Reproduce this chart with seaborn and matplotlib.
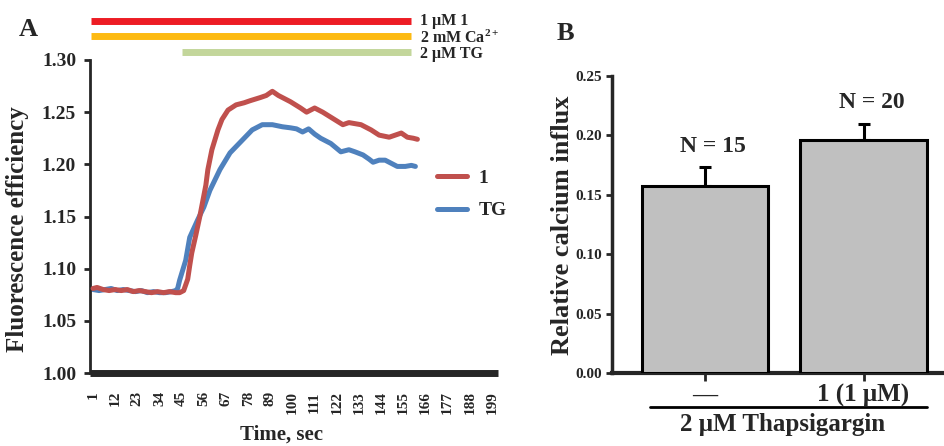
import matplotlib
matplotlib.use("Agg")
import matplotlib.pyplot as plt
import matplotlib.transforms as mtransforms
from matplotlib.lines import Line2D
import seaborn as sns
import pandas as pd

# ---------------- data ----------------
red_t = [1, 3, 6, 9, 12, 15, 18, 21, 24, 27, 30, 33, 36, 39, 42, 44, 46,
         48, 49, 50, 52, 54, 56, 57, 58, 60, 63, 65, 68, 72, 76, 79, 84, 87, 90,
         93, 96, 99, 104, 107, 111, 115, 120, 125, 128, 131, 134, 139, 143, 148,
         151, 154, 157, 160, 162]
red_v = [1.081, 1.082, 1.080, 1.079, 1.080, 1.079, 1.080, 1.078, 1.079, 1.078,
         1.077, 1.078, 1.077, 1.078, 1.077, 1.077, 1.079,
         1.090, 1.103, 1.115, 1.132, 1.150, 1.170, 1.180, 1.195, 1.214, 1.233,
         1.243, 1.252, 1.257, 1.259, 1.261, 1.264, 1.266, 1.270,
         1.266, 1.263, 1.260, 1.254, 1.250, 1.254, 1.250, 1.244, 1.238, 1.240,
         1.239, 1.238, 1.233, 1.228, 1.226, 1.228, 1.230, 1.226, 1.225, 1.224]

blue_t = [1, 4, 7, 10, 13, 16, 19, 22, 25, 28, 31, 34, 37, 40, 42, 43,
          44, 47, 49, 53, 56, 59, 64, 69, 74, 80, 85, 90, 95, 99, 102, 105,
          108, 111, 114, 119, 124, 128, 131, 135, 138, 140, 143, 146, 149,
          152, 156, 159, 161]
blue_v = [1.080, 1.079, 1.080, 1.081, 1.079, 1.080, 1.079, 1.078, 1.079, 1.077,
          1.078, 1.077, 1.077, 1.078, 1.079, 1.081,
          1.089, 1.108, 1.130, 1.147, 1.159, 1.175, 1.195, 1.211, 1.221, 1.233,
          1.238, 1.238, 1.236, 1.235, 1.234, 1.231, 1.234, 1.229, 1.225, 1.220,
          1.212, 1.214, 1.212, 1.209, 1.205, 1.202, 1.204, 1.204, 1.201, 1.198,
          1.198, 1.199, 1.198]

series_names = ["1", "TG"]
series_colors = ["#C0504D", "#4F81BD"]

time_ticks = list(range(1, 200, 11))
yticks_a = [1.00, 1.05, 1.10, 1.15, 1.20, 1.25, 1.30]

treat_labels = ["1 \u03bcM 1", "2 mM Ca$^{2+}$", "2 \u03bcM TG"]
treat_start = [0, 0, 45]
treat_end = [159, 159, 159]
treat_colors = ["#ED1C24", "#FDBA12", "#C3D69B"]

bar_cats = ["\u2014", "1 (1 \u03bcM)"]
bar_vals = [0.157, 0.196]
bar_err = [0.016, 0.014]
bar_n = ["N = 15", "N = 20"]
yticks_b = [0.00, 0.05, 0.10, 0.15, 0.20, 0.25]

# ---------------- style ----------------
sns.set_style("ticks")
plt.rcParams["font.family"] = ["Liberation Serif", "DejaVu Serif"]
plt.rcParams["font.weight"] = "bold"
plt.rcParams["mathtext.fontset"] = "custom"
plt.rcParams["mathtext.rm"] = "Liberation Serif:bold"
plt.rcParams["mathtext.it"] = "Liberation Serif:bold"
plt.rcParams["mathtext.bf"] = "Liberation Serif:bold"

W, H = 945, 446
fig = plt.figure(figsize=(W / 100, H / 100), dpi=100)

def fx(px):
    return px / W

def fy(py):
    return 1 - py / H

# ---------------- panel A ----------------
axA = fig.add_axes([fx(90), fy(373), fx(498) - fx(90), fy(60) - fy(373)])
dfr = pd.DataFrame({"t": red_t, "v": red_v})
dfb = pd.DataFrame({"t": blue_t, "v": blue_v})
sns.lineplot(data=dfb, x="t", y="v", color=series_colors[1], linewidth=3.6,
             ax=axA, label=series_names[1], zorder=2)
sns.lineplot(data=dfr, x="t", y="v", color=series_colors[0], linewidth=3.6,
             ax=axA, label=series_names[0], zorder=3)
axA.set_xlim(-0.5, 202)
axA.set_ylim(1.0, 1.30)
axA.set_xticks(time_ticks)
axA.set_xticklabels([str(t) for t in time_ticks], rotation=90, fontsize=11,
                    fontweight="bold")
axA.set_yticks(yticks_a)
axA.set_yticklabels([f"{v:.2f}" for v in yticks_a], fontsize=14, fontweight="bold")
axA.tick_params(axis="x", length=0, pad=13)
axA.tick_params(axis="y", length=4, width=2, direction="out", pad=6)
for s in ["top", "right"]:
    axA.spines[s].set_visible(False)
axA.spines["left"].set_linewidth(2)
axA.spines["bottom"].set_linewidth(5)
axA.spines["bottom"].set_capstyle("butt")
axA.set_xlabel("Time, sec", fontsize=15, fontweight="bold")
axA.set_ylabel("Fluorescence efficiency", fontsize=18, fontweight="bold")
axA.xaxis.set_label_coords((282 - 90) / 408, -(425 - 373) / 313)
axA.yaxis.set_label_coords(-(90 - 29) / 408, (373 - 229) / 313)

# legend
h, l = axA.get_legend_handles_labels()
order = [l.index("1"), l.index("TG")]
leg = axA.legend([h[i] for i in order], [l[i] for i in order], frameon=False,
                 loc="upper left", bbox_to_anchor=((420 - 90) / 408, (373 - 152) / 313),
                 handlelength=1.5, handletextpad=0.6, labelspacing=0.75,
                 prop={"family": "Liberation Serif", "weight": "bold", "size": 14})

# treatment bars above panel A
trans = mtransforms.blended_transform_factory(axA.transData, fig.transFigure)
bar_y = [21, 36, 52]
text_y = [21, 38, 54]
for lab, s, e, c, yy, ty in zip(treat_labels, treat_start, treat_end, treat_colors,
                                bar_y, text_y):
    axA.plot([s, e], [fy(yy), fy(yy)], color=c, linewidth=5, transform=trans,
             clip_on=False, solid_capstyle="butt")
    fig.text(fx(420), fy(ty), lab, fontsize=11.5, fontweight="bold", va="center",
             ha="left")

fig.text(fx(28), fy(30), "A", fontsize=19, fontweight="bold", ha="center", va="center")

# ---------------- panel B ----------------
axB = fig.add_axes([fx(612), fy(373), fx(945) - fx(612), fy(76) - fy(373)])
dfB = pd.DataFrame({"cat": bar_cats, "val": bar_vals})
sns.barplot(data=dfB, x="cat", y="val", color="#C0C0C0", edgecolor="black",
            linewidth=2.2, width=0.8, saturation=1, ax=axB, zorder=3)
axB.errorbar([0, 1], bar_vals, yerr=[[0, 0], bar_err], fmt="none", ecolor="black",
             elinewidth=2.2, capsize=4, capthick=2.2, zorder=2)
for i, (v, e, n) in enumerate(zip(bar_vals, bar_err, bar_n)):
    axB.text(i + 0.05, v + e + 0.009, n, ha="center", va="bottom", fontsize=17,
             fontweight="bold")
axB.set_xlim(-0.587, 1.514)
axB.set_ylim(0, 0.25)
axB.set_yticks(yticks_b)
axB.set_yticklabels([f"{v:.2f}" for v in yticks_b], fontsize=11, fontweight="bold")
axB.set_xticklabels(bar_cats, fontsize=18, fontweight="bold")
axB.tick_params(axis="x", length=6, width=2, direction="out", pad=2)
axB.tick_params(axis="y", length=4, width=2, direction="out", pad=3)
for s in ["top", "right"]:
    axB.spines[s].set_visible(False)
axB.spines["left"].set_linewidth(2.5)
axB.spines["bottom"].set_linewidth(3)
axB.set_xlabel("")
axB.set_ylabel("Relative calcium influx", fontsize=19, fontweight="bold")
axB.yaxis.set_label_coords(-(612 - 574) / 333, (373 - 225) / 297)

fig.add_artist(Line2D([fx(650), fx(927)], [fy(407), fy(407)], color="black",
                      linewidth=2, transform=fig.transFigure))
fig.text(fx(783), fy(424), "2 \u03bcM Thapsigargin", fontsize=18, fontweight="bold",
         ha="center", va="center")
fig.text(fx(565), fy(33), "B", fontsize=19, fontweight="bold", ha="center", va="center")

fig.savefig("out.png", dpi=100)
